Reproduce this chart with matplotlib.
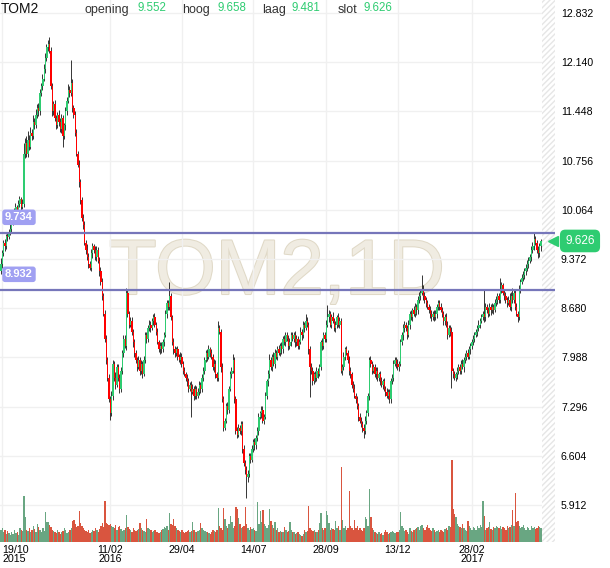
import numpy as np
import matplotlib
matplotlib.use("Agg")
import matplotlib.pyplot as plt
import matplotlib.patheffects as pe

plt.rcParams['font.family'] = ['Liberation Sans', 'DejaVu Sans']

symbol = "TOM2"
interval = "1D"

# daily closes, oldest first (one candle per trading day)
closes = [
    9.30, 9.45, 9.60, 9.55, 9.70, 9.68, 9.75, 9.80, 9.90, 10.00,
    10.05, 10.10, 10.02, 10.15, 10.22, 10.10, 10.15, 10.85, 11.00, 10.85,
    11.05, 10.95, 11.15, 11.10, 11.30, 11.25, 11.40, 11.50, 11.45, 11.70,
    11.80, 11.90, 12.05, 12.20, 12.35, 12.40, 12.30, 11.80, 11.45, 11.55,
    11.35, 11.25, 11.40, 11.30, 11.20, 11.35, 11.10, 11.25, 11.45, 11.60,
    11.75, 11.70, 11.85, 11.50, 11.40, 11.15, 10.85, 10.70, 10.45, 10.20,
    9.95, 9.85, 9.60, 9.50, 9.40, 9.30, 9.25, 9.45, 9.55, 9.50,
    9.40, 9.50, 9.35, 9.20, 9.05, 8.85, 8.60, 8.25, 7.95, 7.70,
    7.40, 7.20, 7.45, 7.90, 7.70, 7.60, 7.85, 7.70, 7.55, 7.80,
    8.05, 8.25, 8.15, 8.90, 8.60, 8.45, 8.50, 8.35, 8.20, 8.05,
    7.95, 7.85, 7.95, 7.80, 7.90, 7.75, 7.95, 8.30, 8.25, 8.40,
    8.45, 8.40, 8.50, 8.55, 8.45, 8.35, 8.20, 8.10, 8.15, 8.10,
    8.20, 8.30, 8.60, 8.75, 8.70, 8.85, 8.55, 8.20, 8.10, 8.05,
    8.10, 8.00, 7.95, 8.00, 7.90, 7.80, 7.75, 7.70, 7.65, 7.55,
    7.60, 7.50, 7.55, 7.45, 7.55, 7.45, 7.50, 7.60, 7.55, 7.70,
    7.80, 7.95, 8.05, 8.00, 8.10, 8.05, 8.00, 7.85, 7.90, 7.75,
    7.70, 8.40, 8.35, 7.85, 7.40, 7.00, 7.10, 7.30, 7.25, 7.55,
    7.75, 7.80, 7.95, 7.40, 6.95, 6.90, 7.00, 6.95, 7.05, 6.70,
    6.50, 6.40, 6.30, 6.35, 6.60, 6.55, 6.70, 6.80, 6.75, 6.85,
    6.95, 7.15, 7.20, 7.25, 7.10, 7.15, 7.45, 7.65, 7.75, 7.95,
    7.85, 8.00, 7.90, 8.05, 8.00, 8.10, 8.05, 8.15, 8.10, 8.25,
    8.20, 8.30, 8.25, 8.15, 8.20, 8.30, 8.25, 8.30, 8.20, 8.25,
    8.15, 8.20, 8.35, 8.30, 8.45, 8.40, 8.50, 8.45, 8.10, 7.85,
    7.80, 7.65, 7.75, 7.70, 7.80, 7.75, 7.85, 8.20, 8.15, 8.30,
    8.25, 8.45, 8.55, 8.60, 8.45, 8.55, 8.50, 8.40, 8.45, 8.55,
    8.45, 8.50, 7.80, 7.85, 8.00, 8.10, 8.05, 7.95, 7.80, 7.75,
    7.60, 7.55, 7.45, 7.40, 7.30, 7.15, 7.10, 7.05, 7.00, 6.95,
    7.10, 7.20, 7.45, 7.95, 7.90, 7.80, 7.85, 7.75, 7.80, 7.70,
    7.75, 7.65, 7.60, 7.65, 7.55, 7.50, 7.45, 7.50, 7.40, 7.65,
    7.70, 7.90, 7.95, 7.90, 7.85, 7.90, 8.20, 8.30, 8.40, 8.45,
    8.40, 8.30, 8.45, 8.60, 8.55, 8.65, 8.60, 8.70, 8.65, 8.80,
    8.85, 8.90, 8.95, 8.85, 8.80, 8.75, 8.70, 8.65, 8.60, 8.55,
    8.60, 8.55, 8.60, 8.70, 8.75, 8.70, 8.65, 8.60, 8.50, 8.55,
    8.45, 8.30, 8.40, 8.35, 7.80, 7.75, 7.70, 7.75, 7.80, 7.85,
    7.80, 7.90, 7.85, 7.95, 8.00, 8.05, 8.00, 8.10, 8.15, 8.20,
    8.25, 8.30, 8.35, 8.40, 8.45, 8.50, 8.55, 8.60, 8.55, 8.70,
    8.65, 8.60, 8.70, 8.65, 8.70, 8.65, 8.75, 8.80, 8.85, 8.80,
    8.95, 9.00, 8.90, 8.85, 8.80, 8.75, 8.80, 8.70, 8.85, 8.80,
    8.90, 8.70, 8.60, 8.55, 8.95, 9.05, 9.10, 9.15, 9.20, 9.25,
    9.30, 9.35, 9.40, 9.50, 9.55, 9.65, 9.60, 9.50, 9.45, 9.552,
    9.626,
]

# wick length above / below the body, in cents
wick_hi = [
    8, 5, 4, 6, 3, 5, 4, 6, 3, 5, 4, 6, 3, 5, 4, 3, 6, 15, 8, 10,
    12, 6, 8, 5, 10, 6, 8, 5, 7, 6, 5, 8, 6, 7, 5, 5, 10, 6, 5, 4,
    6, 5, 4, 7, 5, 6, 5, 4, 6, 5, 8, 6, 32, 5, 4, 6, 5, 4, 6, 5,
    4, 6, 5, 4, 8, 5, 4, 6, 5, 4, 6, 5, 4, 5, 6, 5, 4, 6, 5, 4,
    5, 4, 6, 5, 4, 8, 5, 4, 6, 5, 4, 6, 5, 6, 5, 4, 6, 5, 4, 5,
    4, 5, 6, 4, 5, 4, 6, 5, 4, 5, 6, 5, 4, 5, 6, 4, 5, 4, 6, 5,
    5, 4, 6, 5, 4, 20, 5, 4, 6, 5, 4, 5, 4, 6, 5, 4, 5, 4, 6, 5,
    4, 5, 6, 4, 5, 4, 6, 5, 4, 5, 6, 5, 4, 5, 6, 4, 5, 4, 6, 5,
    4, 10, 5, 4, 6, 5, 4, 5, 6, 4, 5, 6, 8, 5, 4, 6, 5, 4, 5, 4,
    5, 4, 6, 5, 4, 5, 6, 4, 5, 4, 6, 5, 4, 5, 6, 4, 5, 4, 6, 8,
    5, 4, 6, 5, 4, 5, 6, 4, 5, 4, 6, 5, 4, 5, 6, 4, 5, 4, 6, 5,
    4, 5, 6, 4, 5, 4, 10, 5, 4, 5, 6, 5, 4, 5, 6, 4, 5, 4, 6, 5,
    4, 6, 18, 5, 4, 5, 8, 4, 5, 4, 6, 5, 4, 5, 6, 4, 5, 4, 6, 5,
    4, 5, 6, 4, 5, 4, 6, 5, 4, 5, 6, 5, 4, 5, 6, 4, 5, 4, 6, 5,
    4, 5, 6, 4, 5, 4, 6, 5, 4, 5, 6, 5, 4, 5, 6, 4, 5, 4, 6, 5,
    4, 5, 6, 4, 5, 4, 6, 5, 4, 5, 6, 5, 20, 5, 6, 4, 5, 4, 6, 5,
    4, 5, 6, 4, 5, 4, 6, 5, 4, 5, 6, 5, 4, 5, 6, 4, 5, 4, 6, 5,
    4, 5, 6, 4, 5, 4, 6, 5, 4, 5, 6, 5, 4, 5, 6, 4, 5, 4, 35, 5,
    4, 5, 6, 4, 5, 4, 6, 5, 4, 5, 15, 5, 4, 5, 6, 4, 5, 10, 6, 12,
    4, 5, 6, 4, 5, 4, 6, 5, 4, 5, 6, 5, 4, 5, 6, 9, 5, 4, 6, 5,
    3.2,
]
wick_lo = [
    4, 5, 3, 6, 4, 5, 3, 4, 6, 5, 4, 5, 3, 6, 4, 5, 3, 4, 6, 5,
    4, 5, 3, 6, 4, 5, 3, 4, 6, 5, 4, 5, 3, 6, 4, 5, 3, 4, 6, 5,
    4, 5, 3, 6, 4, 5, 15, 4, 6, 5, 4, 5, 3, 6, 4, 5, 3, 4, 6, 5,
    4, 5, 3, 6, 4, 5, 3, 4, 6, 5, 4, 5, 3, 6, 4, 5, 3, 4, 6, 5,
    4, 9, 3, 6, 4, 5, 3, 4, 6, 5, 4, 5, 3, 6, 4, 5, 3, 4, 6, 5,
    4, 5, 3, 6, 4, 5, 3, 4, 6, 5, 4, 5, 3, 6, 4, 5, 3, 4, 6, 5,
    4, 5, 3, 6, 4, 5, 3, 4, 6, 5, 4, 5, 3, 6, 4, 5, 3, 4, 6, 5,
    4, 35, 3, 6, 4, 5, 3, 4, 6, 5, 4, 5, 3, 6, 4, 5, 3, 4, 6, 5,
    4, 5, 3, 6, 4, 5, 3, 4, 6, 5, 4, 5, 3, 6, 4, 5, 3, 4, 6, 5,
    4, 5, 29, 6, 4, 5, 3, 4, 6, 5, 4, 5, 3, 6, 4, 5, 3, 4, 6, 5,
    4, 5, 3, 6, 4, 5, 3, 4, 6, 5, 4, 5, 3, 6, 4, 5, 3, 4, 6, 5,
    4, 5, 3, 6, 4, 5, 3, 4, 6, 42, 4, 5, 3, 6, 4, 5, 3, 4, 6, 5,
    4, 5, 3, 6, 4, 5, 3, 4, 6, 5, 4, 5, 3, 6, 4, 5, 3, 4, 6, 5,
    4, 5, 3, 6, 4, 5, 3, 4, 6, 10, 4, 5, 3, 6, 4, 5, 3, 4, 6, 5,
    4, 5, 3, 6, 4, 5, 3, 4, 6, 5, 4, 5, 3, 6, 4, 5, 3, 4, 6, 5,
    4, 5, 3, 6, 4, 5, 3, 4, 6, 5, 4, 5, 3, 6, 4, 5, 3, 4, 6, 5,
    4, 5, 3, 6, 4, 5, 3, 4, 6, 5, 4, 5, 3, 6, 24, 5, 3, 4, 6, 5,
    4, 5, 3, 6, 4, 5, 3, 4, 6, 5, 4, 5, 3, 6, 4, 5, 3, 4, 6, 5,
    4, 5, 3, 6, 4, 5, 3, 4, 6, 5, 4, 5, 3, 6, 4, 5, 3, 4, 6, 5,
    4, 5, 3, 6, 4, 5, 3, 4, 6, 5, 4, 5, 3, 6, 4, 5, 3, 4, 6, 5,
    7.1,
]

# daily volume, thousands of shares
volumes = [
    300, 350, 250, 300, 200, 280, 220, 180, 260, 200, 300, 220, 250, 180, 350, 300, 280, 1150, 625, 300,
    280, 350, 250, 300, 400, 320, 250, 450, 380, 300, 260, 350, 280, 750, 500, 500, 420, 380, 300, 280,
    250, 220, 300, 260, 200, 250, 280, 350, 300, 220, 260, 300, 350, 525, 550, 450, 380, 400, 775, 475,
    400, 350, 300, 280, 250, 300, 220, 260, 300, 280, 350, 300, 260, 320, 400, 475, 380, 1025, 475, 450,
    420, 450, 400, 380, 350, 420, 300, 380, 400, 320, 280, 300, 350, 675, 380, 320, 300, 260, 350, 300,
    280, 300, 320, 475, 350, 300, 280, 260, 575, 350, 320, 300, 250, 280, 300, 260, 240, 220, 260, 300,
    320, 380, 350, 400, 300, 725, 450, 420, 575, 400, 350, 300, 280, 260, 300, 240, 220, 250, 280, 300,
    260, 280, 500, 300, 260, 250, 280, 300, 475, 350, 300, 280, 260, 240, 220, 200, 260, 300, 280, 250,
    300, 850, 400, 350, 300, 850, 575, 400, 350, 450, 650, 500, 350, 400, 875, 825, 600, 450, 350, 380,
    400, 875, 450, 350, 300, 380, 320, 350, 300, 280, 1000, 450, 775, 500, 800, 450, 400, 350, 420, 825,
    525, 420, 350, 500, 300, 350, 260, 280, 250, 240, 375, 300, 250, 280, 500, 300, 260, 240, 200, 220,
    250, 200, 180, 150, 200, 300, 250, 280, 900, 350, 300, 280, 300, 250, 260, 300, 475, 725, 350, 300,
    350, 775, 675, 475, 300, 350, 320, 300, 525, 350, 400, 300, 1875, 550, 350, 400, 300, 350, 1275, 400,
    350, 300, 550, 350, 400, 300, 350, 300, 280, 350, 625, 575, 400, 1325, 625, 350, 300, 250, 220, 200,
    250, 200, 220, 180, 260, 300, 250, 200, 220, 240, 280, 260, 220, 240, 260, 300, 750, 400, 350, 280,
    300, 250, 200, 350, 280, 260, 300, 320, 350, 380, 300, 400, 420, 350, 300, 380, 420, 350, 300, 280,
    350, 300, 260, 280, 300, 260, 300, 280, 250, 320, 350, 300, 400, 380, 2050, 825, 700, 625, 450, 400,
    380, 350, 450, 350, 300, 280, 525, 400, 350, 300, 380, 350, 300, 400, 350, 420, 380, 1025, 650, 300,
    350, 380, 500, 320, 300, 380, 350, 400, 380, 350, 400, 320, 380, 350, 300, 400, 350, 380, 420, 800,
    400, 1225, 500, 525, 400, 350, 380, 420, 350, 300, 380, 350, 300, 400, 350, 380, 320, 350, 400, 380,
    350,
]

first_open = 9.20
last_open, last_high, last_low, last_close = 9.552, 9.658, 9.481, 9.626

date_ticks = [1, 81, 134, 187, 241, 294, 349]
date_labels = ["19/10\n2015", "11/02\n2016", "29/04", "14/07", "28/09", "13/12", "28/02\n2017"]
price_ticks = [12.832, 12.140, 11.448, 10.756, 10.064, 9.372, 8.680, 7.988, 7.296, 6.604, 5.912]
levels = [9.734, 8.932]

green = '#2ecc71'
red = '#ff0000'
vol_green = '#69a682'
vol_red = '#d9553f'

closes = np.array(closes)
opens = np.concatenate([[first_open], closes[:-1]])
highs = np.maximum(opens, closes) + np.array(wick_hi) / 100
lows = np.minimum(opens, closes) - np.array(wick_lo) / 100
up = closes >= opens
x = np.arange(len(closes))

fig = plt.figure(figsize=(6.1, 5.68), dpi=100)
ax = fig.add_axes([0, 26 / 568, 555 / 610, 542 / 568])
ax.set_xlim(-0.74, 410.4)
ax.set_ylim(5.392, 13.015)

# grid
for p in price_ticks:
    ax.axhline(p, color='#f0f0f0', lw=1, zorder=1)
for t in date_ticks:
    ax.axvline(t, color='#f0f0f0', lw=1, zorder=1)

# empty future area
plt.rcParams['hatch.linewidth'] = 1.0
ax.axvspan(len(closes) - 0.3, 410.4, facecolor='white', edgecolor='#e6e6e6',
           hatch='//////', lw=0, zorder=1.5)

# watermark
ax.text(204.2, 8.88, f"{symbol},{interval}", fontsize=56, color='#f0ece2',
        ha='center', va='baseline', zorder=0.8,
        path_effects=[pe.withStroke(linewidth=1.5, foreground='#e0d9c7')])

# candles
body_lo = np.minimum(opens, closes)
body_h = np.maximum(np.abs(closes - opens), 0.015)
ax.vlines(x - 0.3, lows, highs, color='black', lw=0.55, zorder=3)
ax.bar(x, body_h, bottom=body_lo, width=1.0, color=np.where(up, green, red),
       lw=0, zorder=4, antialiased=False)

# horizontal levels with their labels
for lv in levels:
    ax.axhline(lv, color='#7676ba', lw=1.6, zorder=5)
    ax.annotate(f"{lv:.3f}", xy=(0, lv), xycoords=('axes fraction', 'data'),
                xytext=(19, 16), textcoords='offset pixels', ha='center', va='center',
                color='white', fontsize=8, fontweight='bold', zorder=6,
                bbox=dict(boxstyle='round,pad=0.25', fc='#a0a0f2', ec='none'))

for s in ax.spines.values():
    s.set_visible(False)

# volume
ax2 = ax.twinx()
ax2.bar(x, volumes, width=1.0, color=np.where(up, vol_green, vol_red), lw=0,
        antialiased=False)
ax2.set_ylim(0, 542 * 25)
ax2.set_yticks([])
for s in ax2.spines.values():
    s.set_visible(False)

ax.yaxis.tick_right()
ax.set_yticks(price_ticks)
ax.set_yticklabels([f"{p:.3f}" for p in price_ticks])
ax.tick_params(axis='y', length=0, pad=4.3, labelsize=7.6, labelcolor='black')
ax.set_xticks(date_ticks)
ax.set_xticklabels(date_labels, linespacing=0.9)
ax.tick_params(axis='x', length=0, pad=2, labelsize=7.7, labelcolor='black')
ax.get_xticklabels()[0].set_ha('left')

# last price marker on the right scale
ax.annotate(f"{last_close:.3f}", xy=(1, last_close), xycoords=('axes fraction', 'data'),
            xytext=(25, 0), textcoords='offset pixels', ha='center', va='center',
            color='white', fontsize=8.5, zorder=10, annotation_clip=False,
            bbox=dict(boxstyle='round,pad=0.45', fc=green, ec='none'))
ax.plot([0.9965], [last_close], marker='<', ms=7, color=green, lw=0,
        transform=ax.get_yaxis_transform(), clip_on=False, zorder=10)

# header
fig.text(1 / 610, 1 - 13 / 568, symbol, fontsize=10, color='#111111', va='baseline')
header = [("opening", last_open), ("hoog", last_high), ("laag", last_low), ("slot", last_close)]
label_x = [85, 182, 262, 338]
value_x = [137, 217, 292, 364]
for (name, val), lx, vx in zip(header, label_x, value_x):
    fig.text(lx / 610, 1 - 13 / 568, name, fontsize=9, color='#333333', va='baseline')
    fig.text(vx / 610, 1 - 11 / 568, f"{val:.3f}", fontsize=8.3, color=green, va='baseline')

fig.savefig("out.png", dpi=100)
